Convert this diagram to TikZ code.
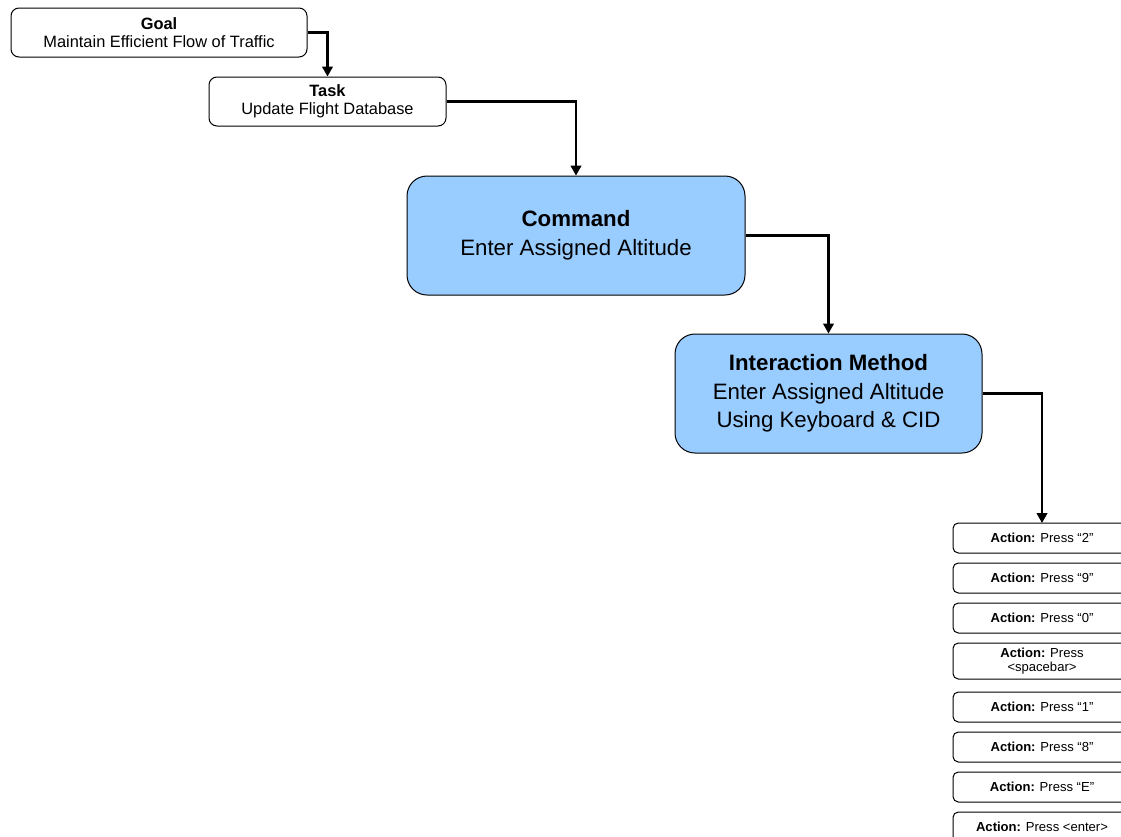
\documentclass[tikz,border=0pt]{standalone}
\usepackage{fontspec}
\setmainfont{Liberation Sans}
\usetikzlibrary{positioning,arrows.meta}
\definecolor{cmdblue}{HTML}{99CCFF}

\begin{document}
\begin{tikzpicture}[
    x=0.75pt, y=-0.75pt,
    level/.style = {rectangle, rounded corners=6pt, draw=black, line width=0.75pt, fill=white,
                    minimum height=36.75pt, align=center, inner sep=0pt,
                    font=\fontsize{12.3}{13.5}\selectfont},
    bigbox/.style = {rectangle, rounded corners=15pt, draw=black, line width=0.75pt, fill=cmdblue,
                     minimum height=89.25pt, align=center, inner sep=0pt,
                     font=\fontsize{16.7}{21.5}\selectfont},
    action/.style = {rectangle, rounded corners=4pt, draw=black, line width=0.75pt, fill=white,
                     minimum width=133.5pt, minimum height=22.5pt, align=center, inner sep=0pt,
                     outer sep=0pt, font=\fontsize{9.8}{10}\selectfont},
    link/.style = {line width=1.6pt, -{Triangle[length=7.5pt,width=8pt]}},
    node distance = 7.5pt
]
\useasboundingbox (0,0) rectangle (1121,836);
\clip (0,0) rectangle (1121,836);

% --- Hierarchy nodes ---
\node[level, minimum width=222pt] (goal) at (159,32.5) {\textbf{Goal}\\Maintain Efficient Flow of Traffic};
\node[level, minimum width=177.75pt] (task) at (327.5,101.5) {\textbf{Task}\\Update Flight Database};
\node[bigbox, minimum width=253.5pt] (cmd) at (576,235.5) {\textbf{Command}\\Enter Assigned Altitude};
\node[bigbox, minimum width=230.25pt] (method) at (828.5,393.5) {\textbf{Interaction Method}\\Enter Assigned Altitude\\Using Keyboard \& CID};

% --- Action nodes (vertical stack) ---
\node[action] (act1) at (1042,538) {\textbf{Action:} Press “2”};
\node[action, below=of act1] (act2) {\textbf{Action:} Press “9”};
\node[action, below=of act2] (act3) {\textbf{Action:} Press “0”};
\node[action, below=of act3, minimum height=27pt] (act4) {\textbf{Action:} Press\\<spacebar>};
\node[action, below=9.75pt of act4] (act5) {\textbf{Action:} Press “1”};
\node[action, below=of act5] (act6) {\textbf{Action:} Press “8”};
\node[action, below=of act6] (act7) {\textbf{Action:} Press “E”};
\node[action, below=of act7] (act8) {\textbf{Action:} Press <enter>};

% --- Elbow connectors ---
\draw[link] (goal.east) -| (task.north);
\draw[link] (task.east) -| (cmd.north);
\draw[link] (cmd.east) -| (method.north);
\draw[link] (method.east) -| (act1.north);

\end{tikzpicture}
\end{document}
